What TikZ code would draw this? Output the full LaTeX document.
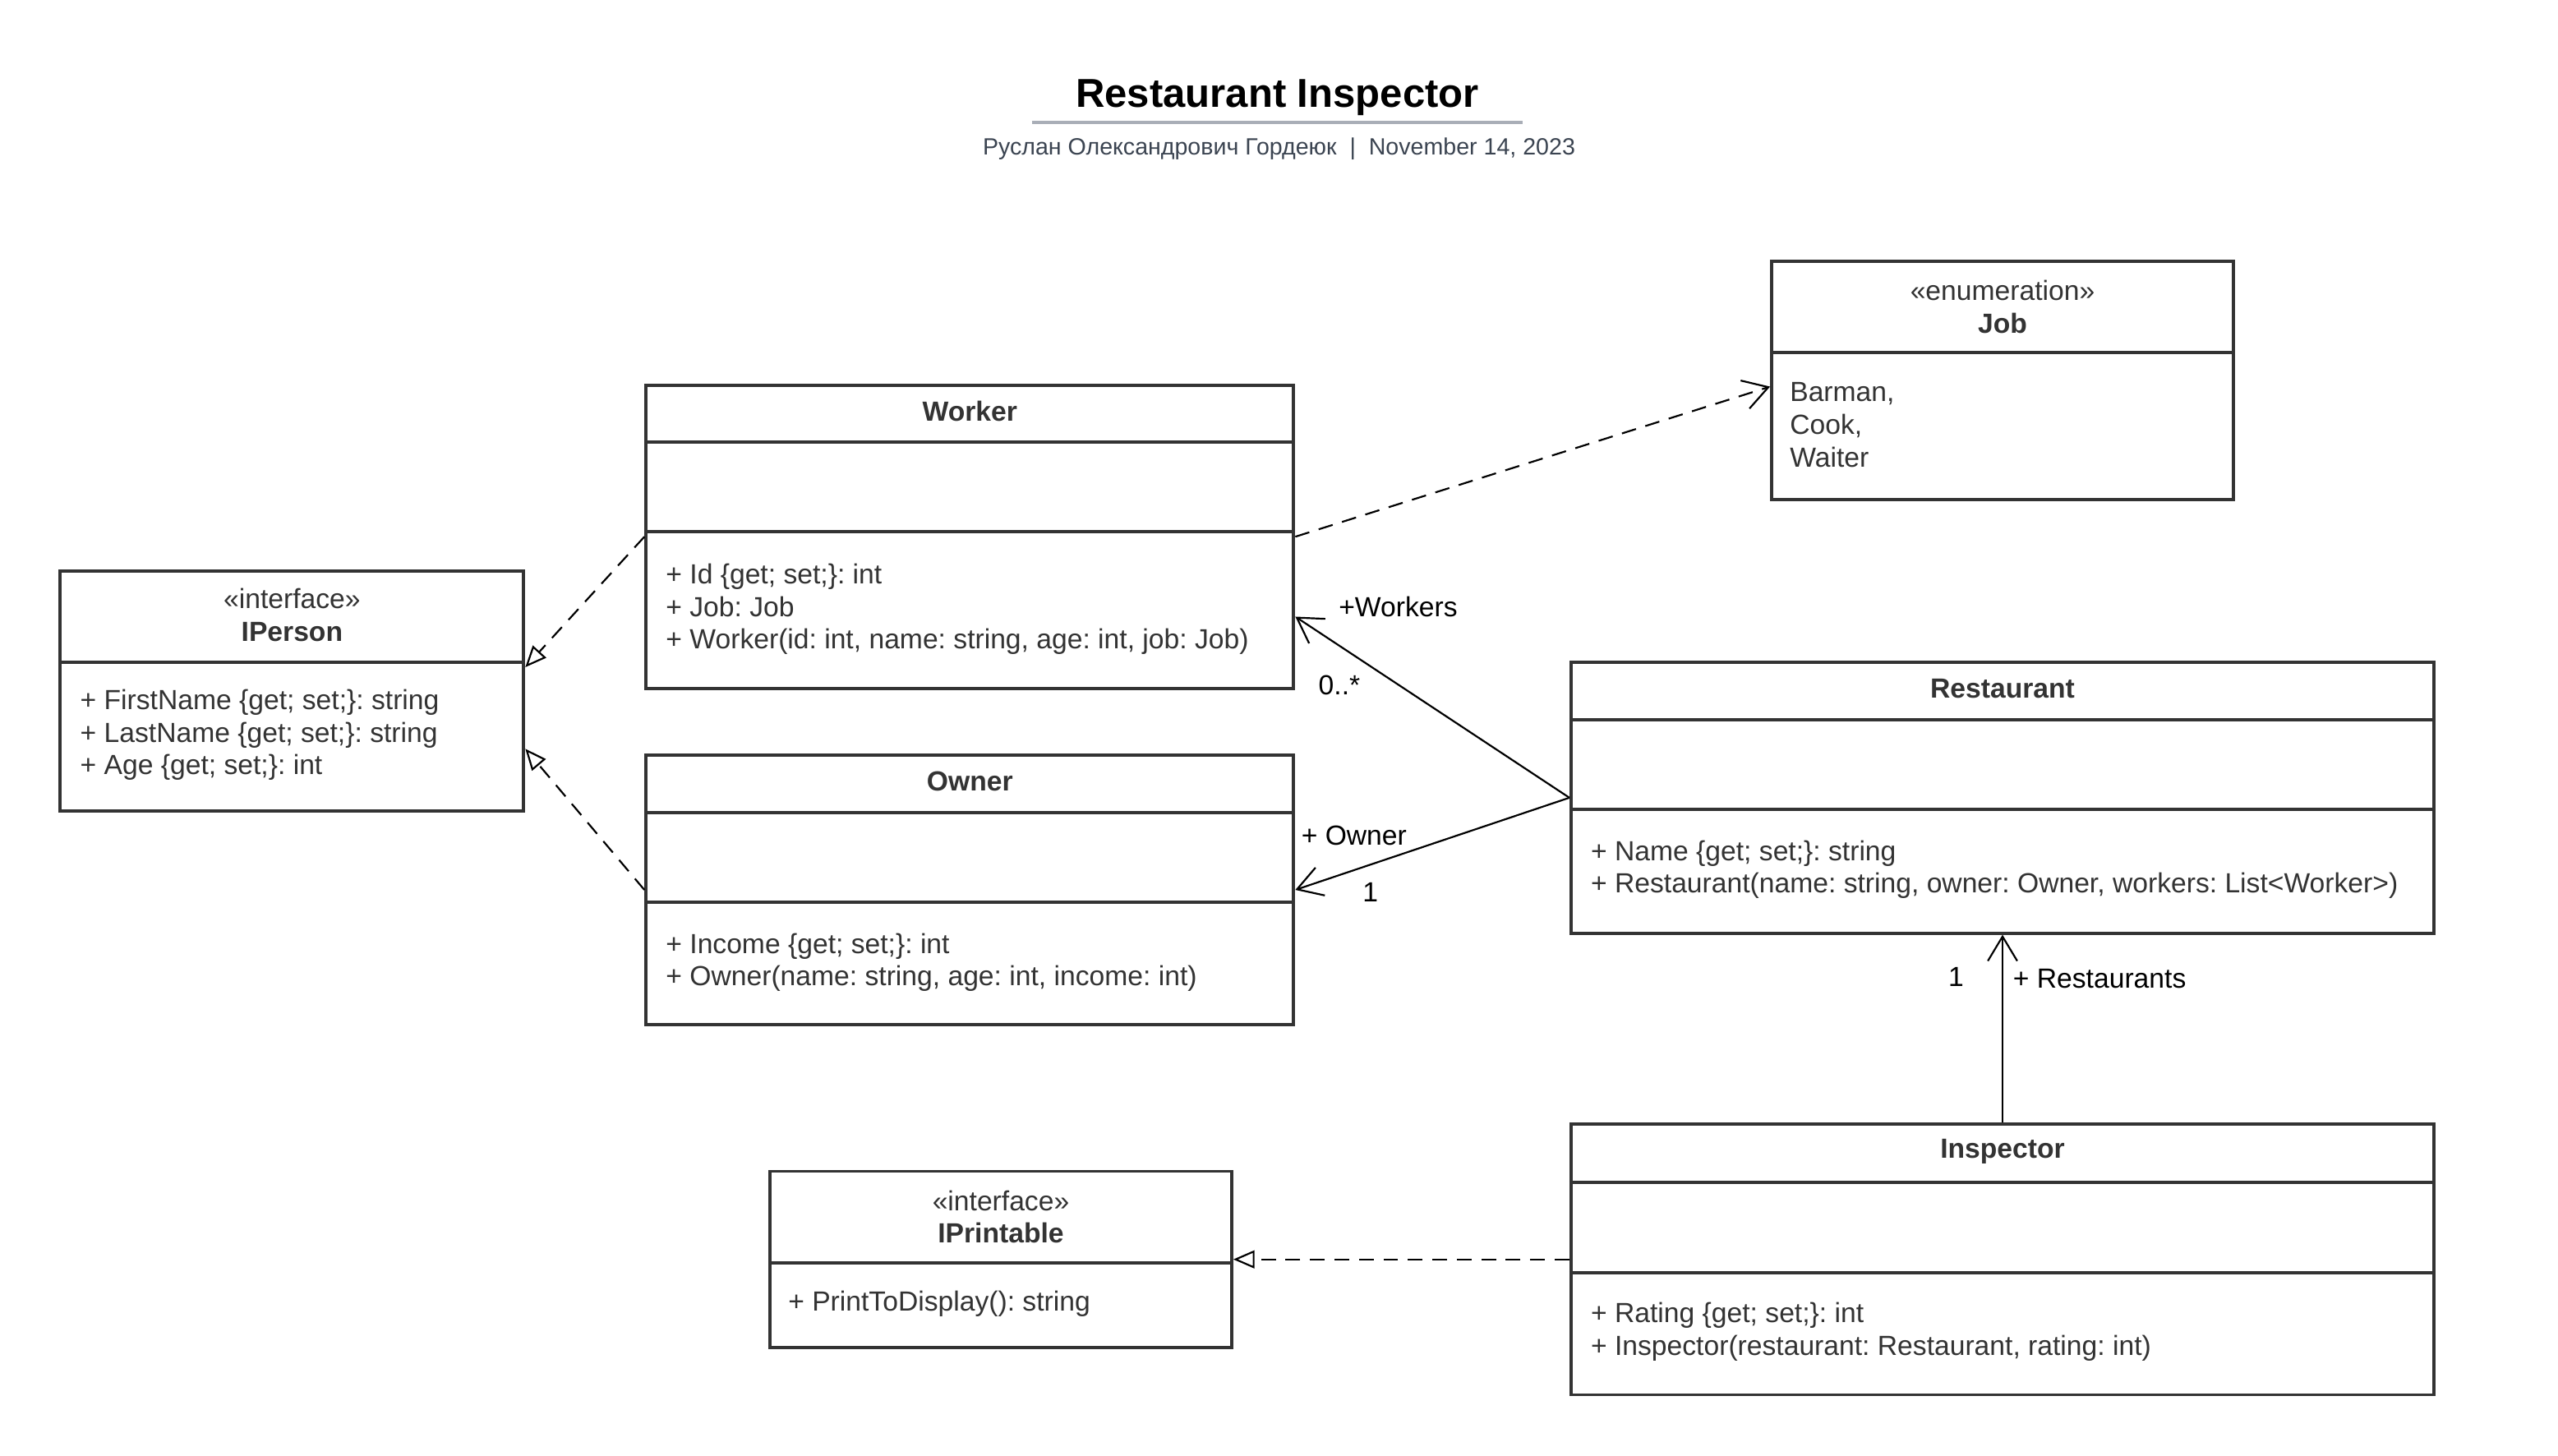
\documentclass[tikz,border=0pt]{standalone}
\usepackage{fontspec}
\setmainfont{Liberation Sans}
\usepackage{xcolor}
\usetikzlibrary{arrows.meta,positioning,calc}
\definecolor{boxline}{HTML}{333333}
\definecolor{boxtext}{HTML}{333333}
\definecolor{rulegray}{HTML}{A9AEB7}
\definecolor{subgray}{HTML}{3B4451}
\newcommand{\boxfont}{\fontsize{16.95}{20}\selectfont}
\frenchspacing

\begin{document}
\begin{tikzpicture}[x=1pt, y=-1pt,
    every node/.style={inner sep=0pt, text=boxtext, font=\boxfont},
    classbox/.style={rectangle, draw=boxline, line width=2pt, fill=white},
    divider/.style={draw=boxline, line width=2pt},
    headtext/.style={align=center},
    membertext/.style={anchor=west, align=left},
    linklabel/.style={text=black},
    realize/.style={-{Triangle[open, length=13pt, width=11pt]}, dash pattern=on 9pt off 6pt, line width=1.1pt, black},
    depend/.style={-{Straight Barb[length=15pt, width=18pt]}, dash pattern=on 9pt off 6pt, line width=1.1pt, black},
    assoc/.style={-{Straight Barb[length=15pt, width=18pt]}, line width=1.1pt, black}]
    \useasboundingbox (0,0) rectangle (1568,892.5);

    % Title
    \node[font=\bfseries\fontsize{24.7}{28}\selectfont, text=black] (title) at (783,60) {Restaurant Inspector};
    \draw[rulegray, line width=2pt] (632.5,75) -- (933.5,75);
    \node[font=\fontsize{14.4}{17}\selectfont, text=subgray] (byline) at (784,91) {Руслан Олександрович Гордеюк \ | \ November 14, 2023};

    % IPerson
    \node[classbox, minimum width=284pt, minimum height=147pt] (iperson) at (179,423.5) {};
    \draw[divider] (iperson.west |- 0,406) -- (iperson.east |- 0,406);
    \node[headtext] (ipersonhead) at (179,377) {«interface»\\\textbf{IPerson}};
    \node[membertext] (ipersonattr) at (49,450.5) {+ FirstName \{get; set;\}: string\\+ LastName \{get; set;\}: string\\+ Age \{get; set;\}: int};

    % Worker
    \node[classbox, minimum width=397pt, minimum height=186pt] (worker) at (594.5,329) {};
    \draw[divider] (worker.west |- 0,271) -- (worker.east |- 0,271);
    \draw[divider] (worker.west |- 0,326) -- (worker.east |- 0,326);
    \node[headtext, font=\boxfont\bfseries] (workerhead) at (594.5,252) {Worker};
    \node[membertext] (workerops) at (408,373.5) {+ Id \{get; set;\}: int\\+ Job: Job\\+ Worker(id: int, name: string, age: int, job: Job)};

    % Owner
    \node[classbox, minimum width=397pt, minimum height=165pt] (owner) at (594.5,545.5) {};
    \draw[divider] (owner.west |- 0,498) -- (owner.east |- 0,498);
    \draw[divider] (owner.west |- 0,553) -- (owner.east |- 0,553);
    \node[headtext, font=\boxfont\bfseries] (ownerhead) at (594.5,479) {Owner};
    \node[membertext] (ownerops) at (408,590) {+ Income \{get; set;\}: int\\+ Owner(name: string, age: int, income: int)};

    % Job
    \node[classbox, minimum width=283pt, minimum height=146pt] (job) at (1227.5,233) {};
    \draw[divider] (job.west |- 0,216) -- (job.east |- 0,216);
    \node[headtext] (jobhead) at (1227.5,188) {«enumeration»\\\textbf{Job}};
    \node[membertext] (jobvalues) at (1097,260.5) {Barman,\\Cook,\\Waiter};

    % Restaurant
    \node[classbox, minimum width=529pt, minimum height=166pt] (restaurant) at (1227.5,489) {};
    \draw[divider] (restaurant.west |- 0,441) -- (restaurant.east |- 0,441);
    \draw[divider] (restaurant.west |- 0,496) -- (restaurant.east |- 0,496);
    \node[headtext, font=\boxfont\bfseries] (restauranthead) at (1227.5,422) {Restaurant};
    \node[membertext] (restaurantops) at (975,533) {+ Name \{get; set;\}: string\\+ Restaurant(name: string, owner: Owner, workers: List<Worker>)};

    % Inspector
    \node[classbox, minimum width=529pt, minimum height=166pt] (inspector) at (1227.5,772) {};
    \draw[divider] (inspector.west |- 0,725) -- (inspector.east |- 0,725);
    \draw[divider] (inspector.west |- 0,780) -- (inspector.east |- 0,780);
    \node[headtext, font=\boxfont\bfseries] (inspectorhead) at (1227.5,706) {Inspector};
    \node[membertext] (inspectorops) at (975,816.5) {+ Rating \{get; set;\}: int\\+ Inspector(restaurant: Restaurant, rating: int)};

    % IPrintable
    \node[classbox, minimum width=283pt, minimum height=108pt] (iprintable) at (613.5,772) {};
    \draw[divider] (iprintable.west |- 0,774) -- (iprintable.east |- 0,774);
    \node[headtext] (iprintablehead) at (613.5,746) {«interface»\\\textbf{IPrintable}};
    \node[membertext] (iprintableops) at (483,799) {+ PrintToDisplay(): string};

    % Realizations and dependency
    \draw[realize] (worker.west) -- ([yshift=14.5pt]iperson.east);
    \draw[realize] (owner.west) -- ([yshift=-35.5pt]iperson.east);
    \draw[realize] (inspector.west) -- (iprintable.east);
    \draw[depend] (worker.east) -- ([yshift=-4pt]job.west);

    % Associations
    \draw[assoc] (restaurant.west) -- ([yshift=-49pt]worker.east);
    \draw[assoc] (restaurant.west) -- (owner.east);
    \draw[assoc] (inspector.north) -- (restaurant.south);

    % Association labels
    \node[linklabel] (workersrole) at (857,372) {+Workers};
    \node[linklabel] (workersmult) at (821,420) {0..*};
    \node[linklabel] (ownerrole) at (830,512) {+ Owner};
    \node[linklabel] (ownermult) at (840,547) {1};
    \node[linklabel] (restmult) at (1199,599) {1};
    \node[linklabel] (restrole) at (1287,600) {+ Restaurants};
\end{tikzpicture}
\end{document}
